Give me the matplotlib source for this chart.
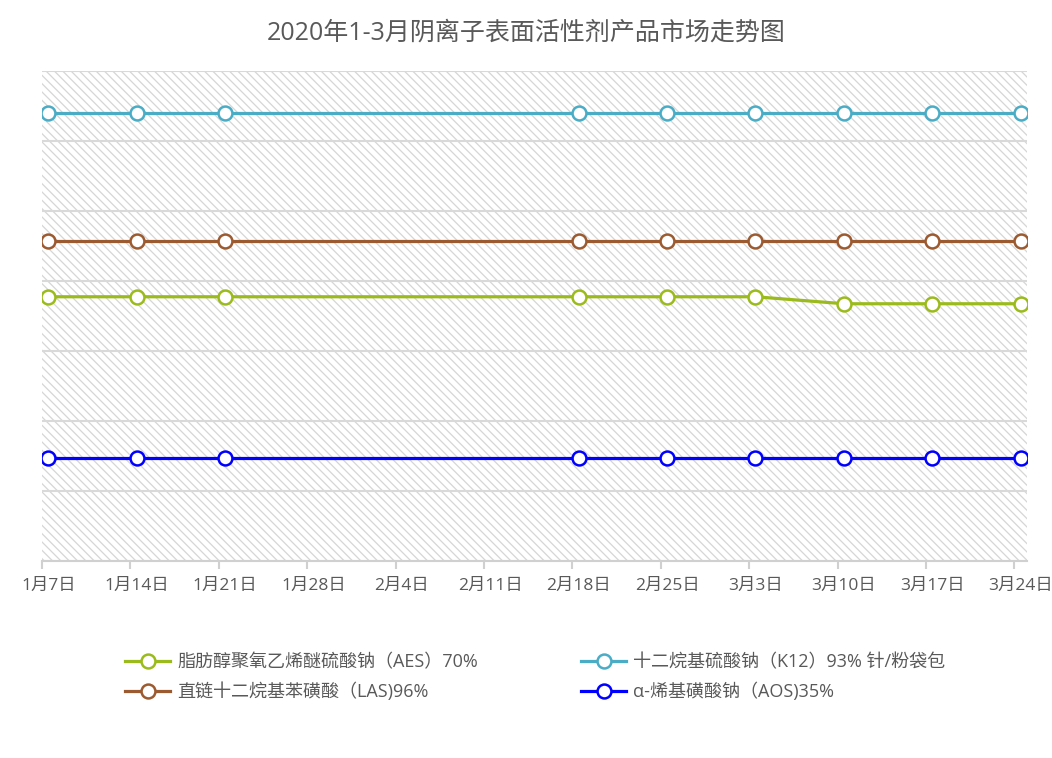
import matplotlib.pyplot as plt
from matplotlib.patches import Rectangle
import numpy as np

plt.rcParams['font.family'] = ['Open Sans', 'Noto Sans CJK SC', 'DejaVu Sans']
plt.rcParams['hatch.linewidth'] = 0.9

# 日期 (周), 以1月7日为第0天
tick_labels = ['1月7日', '1月14日', '1月21日', '1月28日', '2月4日', '2月11日',
               '2月18日', '2月25日', '3月3日', '3月10日', '3月17日', '3月24日']
tick_days = np.arange(0, 78, 7)

# 有数据的日期 (1/28 - 2/11 无数据)
data_days = [0, 7, 14, 42, 49, 56, 63, 70, 77]

aes = [7550, 7550, 7550, 7550, 7550, 7550, 7350, 7350, 7350]
k12 = [12800, 12800, 12800, 12800, 12800, 12800, 12800, 12800, 12800]
las = [9150, 9150, 9150, 9150, 9150, 9150, 9150, 9150, 9150]
aos = [2950, 2950, 2950, 2950, 2950, 2950, 2950, 2950, 2950]

series = [
    ('脂肪醇聚氧乙烯醚硫酸钠（AES）70%', aes, '#9bbb1c'),
    ('直链十二烷基苯磺酸（LAS)96%', las, '#9c5a30'),
    ('十二烷基硫酸钠（K12）93% 针/粉袋包', k12, '#4bacc6'),
    ('α-烯基磺酸钠（AOS)35%', aos, '#0000ff'),
]

fig = plt.figure(figsize=(10.52, 7.58), dpi=100)
ax = fig.add_axes([42 / 1052, 1 - 561 / 758, 985 / 1052, 490 / 758])

# 斜线底纹
bg = Rectangle((0, 0), 1, 1, transform=ax.transAxes, facecolor='white',
               edgecolor='#d6d6d6', hatch='\\\\\\\\', lw=0, zorder=0)
ax.add_patch(bg)

for label, vals, col in series:
    ax.plot(data_days, vals, color=col, lw=2.3, marker='o', markersize=10,
            markerfacecolor='white', markeredgecolor=col, markeredgewidth=1.8,
            label=label, zorder=3)

ax.set_xlim(-0.5, 77.5)
ax.set_ylim(0, 14000)
ax.set_yticks(np.arange(0, 14001, 2000))
ax.yaxis.grid(True, color='#d9d9d9', lw=1.5, zorder=1)
ax.set_axisbelow(True)
ax.tick_params(axis='y', left=False, labelleft=False)

ax.set_xticks(tick_days)
ax.set_xticklabels(tick_labels, fontsize=12.5, color='#595959')
ax.tick_params(axis='x', which='major', length=0, pad=12)
ax.set_xticks(tick_days - 0.5, minor=True)
ax.tick_params(axis='x', which='minor', length=6, width=1.5, color='#d0d0d0')

for s in ['top', 'left', 'right']:
    ax.spines[s].set_visible(False)
ax.spines['bottom'].set_color('#d0d0d0')
ax.spines['bottom'].set_linewidth(1.5)

fig.suptitle('2020年1-3月阴离子表面活性剂产品市场走势图', fontsize=18,
             color='#595959', y=1 - 21 / 758, va='top')

fig.legend(loc='upper left', bbox_to_anchor=(125 / 1052, 1 - 653 / 758),
           ncol=2, frameon=False, fontsize=13, handlelength=2.5,
           numpoints=1, columnspacing=5.7, labelspacing=0.63,
           borderpad=0, borderaxespad=0, handletextpad=0.4,
           labelcolor='#595959')

plt.savefig('out.png', dpi=100)
